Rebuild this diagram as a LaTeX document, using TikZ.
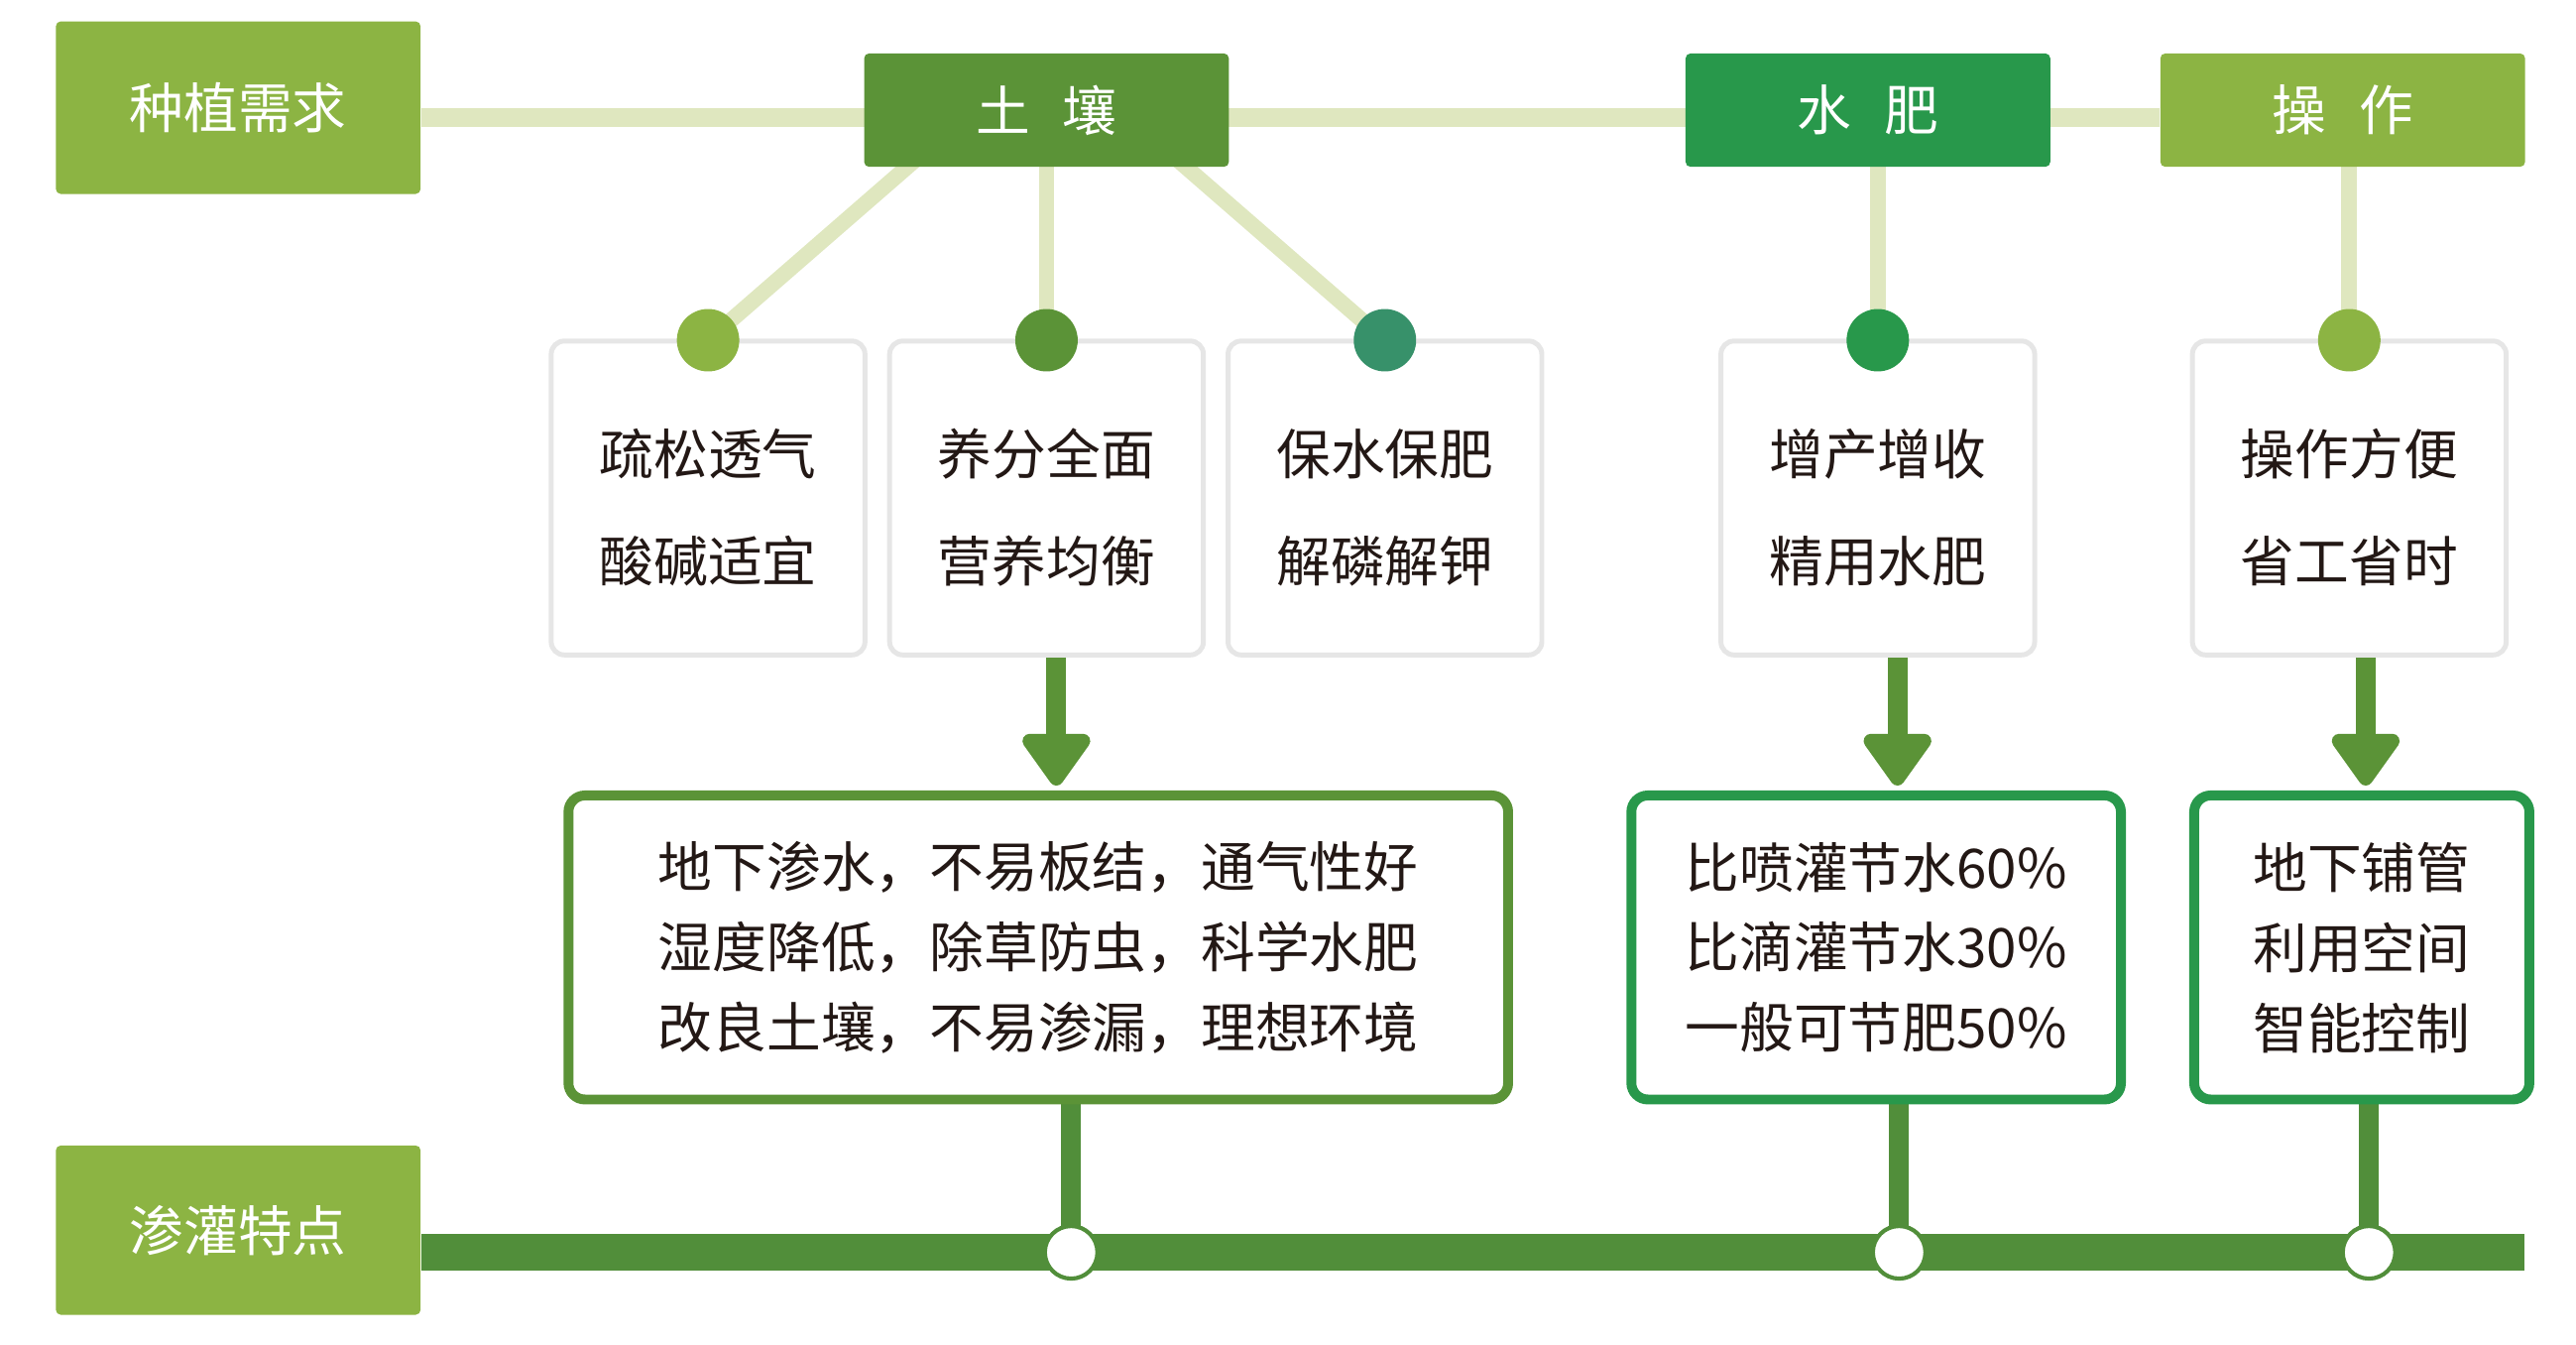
\documentclass[tikz,border=0pt]{standalone}
\usepackage{fontspec}
\setmainfont{Noto Sans CJK SC}
\usetikzlibrary{arrows.meta}
\pgfdeclarelayer{bg}
\pgfsetlayers{bg,main}
\definecolor{cLight}{HTML}{8CB443}
\definecolor{cDark}{HTML}{5B9337}
\definecolor{cWater}{HTML}{28984B}
\definecolor{cTeal}{HTML}{37916A}
\definecolor{cPale}{HTML}{DFE7BF}
\definecolor{cBar}{HTML}{518E3A}
\definecolor{cText}{HTML}{231815}
\definecolor{cCard}{HTML}{E6E6E6}
\begin{document}
\begin{tikzpicture}[x=0.1mm,y=-0.1mm,
  font=\fontsize{9.4pt}{11pt}\selectfont,
  head/.style={rectangle, rounded corners=0.3mm, minimum width=22.2mm, text=white, inner sep=0pt},
  card/.style={rectangle, draw=cCard, line width=0.3mm, fill=white, rounded corners=0.8mm,
    minimum width=19.1mm, minimum height=19.1mm, align=center, text=cText, inner sep=0pt,
    font=\fontsize{9.4pt}{18.6pt}\selectfont},
  dot/.style={circle, minimum size=3.8mm, inner sep=0pt},
  res/.style={rectangle, line width=0.6mm, fill=white, rounded corners=1mm, minimum height=18.5mm,
    align=center, text=cText, inner sep=0pt, font=\fontsize{9.4pt}{13.9pt}\selectfont},
  pale/.style={draw=cPale, line width=1.1mm},
  branch/.style={draw=cPale, line width=0.95mm},
  arr/.style={draw=cDark, line width=1.2mm, -{Triangle[length=3.5mm,width=4.7mm,round]}},
  stem/.style={draw=cBar, line width=1.2mm},
  barline/.style={draw=cBar, line width=2.2mm},
  hole/.style={circle, draw=cBar, fill=white, line width=0.25mm, minimum size=3.2mm, inner sep=0pt}
]
\useasboundingbox (0,0) rectangle (1568,818);

% header boxes
\node[head, fill=cLight, minimum height=10.5mm] (need) at (145,65.5) {种植需求};
\node[head, fill=cDark, minimum height=6.9mm] (soil) at (637,67) {土\hspace{0.6em}壤};
\node[head, fill=cWater, minimum height=6.9mm] (water) at (1137,67) {水\hspace{0.6em}肥};
\node[head, fill=cLight, minimum height=6.9mm] (op) at (1426,67) {操\hspace{0.6em}作};
\node[head, fill=cLight, minimum height=10.3mm] (feat) at (145,748.5) {渗灌特点};

% cards
\node[card] (c1) at (431,303) {\rule{0pt}{11.2pt}疏松透气\\酸碱适宜};
\node[card] (c2) at (637,303) {\rule{0pt}{11.2pt}养分全面\\营养均衡};
\node[card] (c3) at (843,303) {\rule{0pt}{11.2pt}保水保肥\\解磷解钾};
\node[card] (c4) at (1143,303) {\rule{0pt}{11.2pt}增产增收\\精用水肥};
\node[card] (c5) at (1430,303) {\rule{0pt}{11.2pt}操作方便\\省工省时};

% dots
\node[dot, fill=cLight] (d1) at ([yshift=-0.1mm]c1.north) {};
\node[dot, fill=cDark] (d2) at ([yshift=-0.1mm]c2.north) {};
\node[dot, fill=cTeal] (d3) at ([yshift=-0.1mm]c3.north) {};
\node[dot, fill=cWater] (d4) at ([yshift=-0.1mm]c4.north) {};
\node[dot, fill=cLight] (d5) at ([yshift=-0.1mm]c5.north) {};

% result boxes
\node[res, draw=cDark, minimum width=57.2mm] (b1) at (632,576.5)
  {地下渗水，不易板结，通气性好\\湿度降低，除草防虫，科学水肥\\改良土壤，不易渗漏，理想环境};
\node[res, draw=cWater, minimum width=29.8mm] (b2) at (1142,576.5)
  {比喷灌节水60\%\\比滴灌节水30\%\\一般可节肥50\%};
\node[res, draw=cWater, minimum width=20.4mm] (b3) at (1437.6,576.5)
  {地下铺管\\利用空间\\智能控制};

% holes on the bar
\node[hole] (h1) at (652,762) {};
\node[hole] (h2) at (1156,762) {};
\node[hole] (h3) at (1442,762) {};

\coordinate (ly) at (0,71.5);
\coordinate (ax1) at (643,0);
\coordinate (ax2) at (1155,0);
\coordinate (ax3) at (1440,0);
\coordinate (barEnd) at (1536.5,762);

\begin{pgfonlayer}{bg}
  \draw[pale] (need.east |- ly) -- (op.west |- ly);
  \draw[branch] ([xshift=-7.4mm,yshift=1mm]soil.south) -- (d1.center);
  \draw[branch] (d2 |- soil.center) -- (d2.center);
  \draw[branch] ([xshift=7.4mm,yshift=1mm]soil.south) -- (d3.center);
  \draw[branch] (d4 |- water.center) -- (d4.center);
  \draw[branch] (d5 |- op.center) -- (d5.center);
  \draw[stem] (b1.south -| h1) -- (h1.center);
  \draw[stem] (b2.south -| h2) -- (h2.center);
  \draw[stem] (b3.south -| h3) -- (h3.center);
  \draw[barline] (feat.east |- barEnd) -- (barEnd);
\end{pgfonlayer}

\draw[arr, shorten >=0.3mm] (c2.south -| ax1) -- (b1.north -| ax1);
\draw[arr, shorten >=0.3mm] (c4.south -| ax2) -- (b2.north -| ax2);
\draw[arr, shorten >=0.3mm] (c5.south -| ax3) -- (b3.north -| ax3);
\end{tikzpicture}
\end{document}
